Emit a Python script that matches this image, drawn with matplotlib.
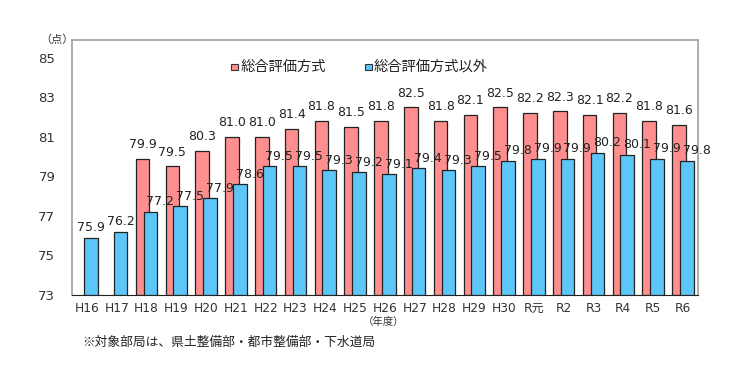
import numpy as np
import matplotlib
matplotlib.use("Agg")
import matplotlib.pyplot as plt
from matplotlib.patches import Rectangle

plt.rcParams['font.family'] = ['DejaVu Sans', 'Noto Sans CJK JP']
jp = ['Noto Sans CJK JP', 'DejaVu Sans']

years = ['H16', 'H17', 'H18', 'H19', 'H20', 'H21', 'H22', 'H23', 'H24', 'H25', 'H26',
         'H27', 'H28', 'H29', 'H30', 'R元', 'R2', 'R3', 'R4', 'R5', 'R6']
sogo = [None, None, 79.9, 79.5, 80.3, 81.0, 81.0, 81.4, 81.8, 81.5, 81.8,
        82.5, 81.8, 82.1, 82.5, 82.2, 82.3, 82.1, 82.2, 81.8, 81.6]
igai = [75.9, 76.2, 77.2, 77.5, 77.9, 78.6, 79.5, 79.5, 79.3, 79.2, 79.1,
        79.4, 79.3, 79.5, 79.8, 79.9, 79.9, 80.2, 80.1, 79.9, 79.8]

red = '#FF8F8F'
blue = '#5CC6F8'
x = np.arange(len(years))
w = 0.46

fig = plt.figure(figsize=(7.4, 3.86), dpi=100)
ax = fig.add_axes([0.0973, 0.2358, 0.8457, 0.6606])

for i in range(len(years)):
    if sogo[i] is not None:
        ax.bar(x[i] - 0.13, sogo[i] - 73, bottom=73, width=w, color=red,
               edgecolor='#222222', linewidth=0.9, zorder=2)
    ax.bar(x[i] + 0.13, igai[i] - 73, bottom=73, width=w, color=blue,
           edgecolor='#222222', linewidth=0.9, zorder=3)

for i in range(len(years)):
    if sogo[i] is not None:
        ax.annotate(f'{sogo[i]:.1f}', (x[i] - 0.13, sogo[i]), xytext=(0, 5.5),
                    textcoords='offset points', ha='center', va='bottom',
                    fontsize=9, color='#222222', zorder=4)
        dx = 7
    else:
        dx = 0
    ax.annotate(f'{igai[i]:.1f}', (x[i] + 0.13, igai[i]), xytext=(dx, 2.5),
                textcoords='offset points', ha='center', va='bottom',
                fontsize=9, color='#222222', zorder=4)

ax.set_xlim(-0.5, len(years) - 0.5)
ax.set_ylim(73, 85.9)
ax.set_yticks([73, 75, 77, 79, 81, 83, 85])
ax.set_xticks(x)
ax.set_xticklabels(years, family=jp[::-1])
ax.tick_params(axis='y', length=0, pad=12, labelsize=9.5, colors='#333333')
ax.tick_params(axis='x', length=0, pad=5, labelsize=8.8, colors='#333333')

for s in ['left', 'top', 'right']:
    ax.spines[s].set_color('#A0A0A0')
    ax.spines[s].set_linewidth(1.2)
ax.spines['bottom'].set_color('#222222')

# legend
for lx, col in [(231, red), (365, blue)]:
    fig.patches.append(Rectangle((lx / 740, 1 - 70 / 386), 6.5 / 740, 6.5 / 386,
                                 transform=fig.transFigure, facecolor=col,
                                 edgecolor='#333333', linewidth=0.8))
fig.text(241 / 740, 1 - 67 / 386, '総合評価方式', fontsize=10.3, va='center', ha='left',
         color='#222222', family=jp)
fig.text(374 / 740, 1 - 67 / 386, '総合評価方式以外', fontsize=10.3, va='center', ha='left',
         color='#222222', family=jp)

fig.text(57 / 740, 1 - 40 / 386, '（点）', fontsize=8, ha='center', va='center',
         color='#333333', family=jp)
fig.text(384 / 740, 1 - 322 / 386, '（年度）', fontsize=7.5, ha='center', va='center',
         color='#333333', family=jp)
fig.text(82 / 740, 1 - 342 / 386, '※対象部局は、県土整備部・都市整備部・下水道局',
         fontsize=9.2, ha='left', va='center', color='#222222', family=jp)

fig.savefig('out.png', dpi=100)
